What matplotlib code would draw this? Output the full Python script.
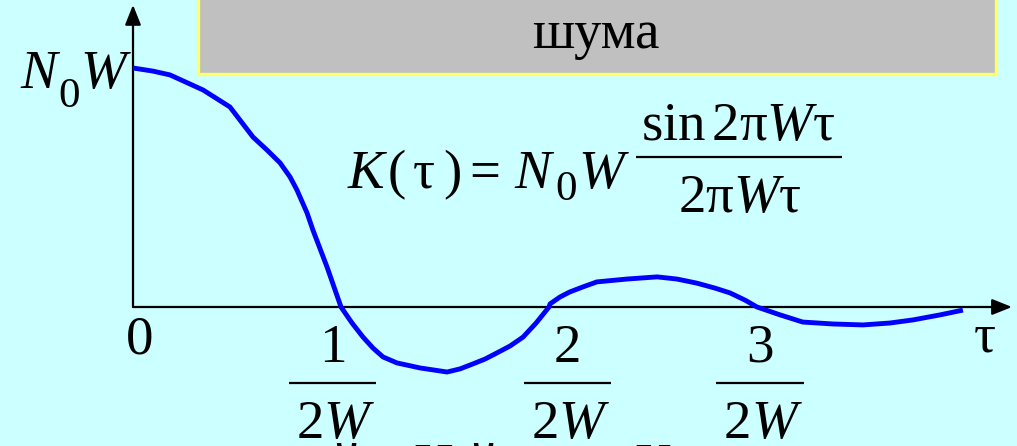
import matplotlib
matplotlib.use("Agg")
import matplotlib.pyplot as plt
from matplotlib.patches import Rectangle
from matplotlib.transforms import Affine2D, blended_transform_factory

plt.rcParams["font.family"] = ["Liberation Serif", "DejaVu Serif"]
plt.rcParams["mathtext.fontset"] = "custom"
plt.rcParams["mathtext.rm"] = "Liberation Serif"
plt.rcParams["mathtext.it"] = "Liberation Serif:italic"

# Correlation function of band-limited white noise:
# tau in units of 1/(2W), K in units of N0*W
tau = [0.0, 0.096, 0.178, 0.337, 0.466, 0.577, 0.644, 0.707, 0.755, 0.788, 0.837,
       0.865, 0.933, 1.0,
       1.053, 1.106, 1.154, 1.202, 1.269, 1.380, 1.510, 1.572, 1.620, 1.692, 1.750,
       1.813, 1.875, 1.938, 2.0,
       2.005, 2.053, 2.10, 2.163, 2.23, 2.375, 2.52, 2.615, 2.71, 2.798, 2.87, 2.942, 3.0,
       3.111, 3.22, 3.365, 3.51, 3.639, 3.75, 3.880, 3.99]
K = [1.0, 0.987, 0.971, 0.908, 0.837, 0.711, 0.657, 0.603, 0.544, 0.490, 0.393,
     0.322, 0.167, 0.0,
     -0.067, -0.126, -0.172, -0.209, -0.234, -0.255, -0.272, -0.259, -0.243, -0.218, -0.192,
     -0.163, -0.126, -0.067, 0.0,
     0.013, 0.042, 0.063, 0.084, 0.105, 0.117, 0.126, 0.117, 0.100, 0.079, 0.059, 0.029, 0.0,
     -0.033, -0.063, -0.071, -0.075, -0.067, -0.054, -0.033, -0.013]
tick_pos = [1, 2, 3]
tick_num = ["1", "2", "3"]

W_PX, H_PX = 1017, 446
BG = "#CCFFFF"
FS = 39.5
PX_PER_TAU = 208

fig = plt.figure(figsize=(W_PX / 100, H_PX / 100), dpi=100, facecolor=BG)
ax = fig.add_axes([0, 0, 1, 1])
ax.set_facecolor(BG)
ax.set_xlim(-133 / PX_PER_TAU, 884 / PX_PER_TAU)
ax.set_ylim(-139 / 239, 307 / 239)
ax.axis("off")

# pixel-coordinate transform (origin top-left)
pix = Affine2D().scale(1 / W_PX, -1 / H_PX).translate(0, 1) + fig.transFigure
xdata_ypix = blended_transform_factory(ax.transData, pix)


def label(x, y, s, tr=pix, size=FS, ha="left", style="normal"):
    ax.text(x, y, s, transform=tr, ha=ha, va="baseline", fontsize=size,
            fontstyle=style, color="black", clip_on=False)


# title box
ax.add_patch(Rectangle((198, -5), 798, 79, transform=pix, facecolor="#C0C0C0",
                       edgecolor="#FFFF66", lw=2.4, zorder=1, clip_on=False))
label(596, 48, "шума", ha="center")

# axes with arrows
arrow = dict(arrowstyle="-|>,head_length=0.55,head_width=0.22", lw=1.6, color="black",
             mutation_scale=22, shrinkA=0, shrinkB=0)
ax.annotate("", xy=(0, 1.264), xytext=(0, 0), arrowprops=arrow, zorder=3)
ax.annotate("", xy=(4.226, 0), xytext=(0, 0), arrowprops=arrow, zorder=3)

# curve
ax.plot(tau, K, color="#0000FF", lw=3.5, solid_joinstyle="round",
        solid_capstyle="butt", zorder=4)

# vertical axis label N0W
label(20, 88, "N", style="italic")
label(58, 107, "0", size=31)
label(80, 88, "W", style="italic")

# horizontal axis label and origin
label(985, 352, "τ", ha="center")
label(0.03, 353, "0", tr=xdata_ypix, ha="center")

# fractional tick labels k/(2W)
offsets = [-0.04, 0.09, 0.015]
split = 9 / PX_PER_TAU
for p, num, off in zip(tick_pos, tick_num, offsets):
    x = p + off
    label(x, 362, num, tr=xdata_ypix, ha="center")
    ax.plot([x - 0.21, x + 0.21], [383, 383], transform=xdata_ypix, color="black",
            lw=1.6, solid_capstyle="butt")
    label(x - split, 438, "2", tr=xdata_ypix, ha="right")
    label(x - split, 438, "W", tr=xdata_ypix, ha="left", style="italic")

# formula K(tau) = N0W sin(2 pi W tau) / (2 pi W tau)
label(348, 188, "K", style="italic")
label(388, 188, "(")
label(424, 188, "τ", ha="center")
label(461, 188, ")", ha="right")
label(485, 188, "=", ha="center")
label(514, 188, "N", style="italic")
label(555, 200, "0", size=31)
label(578, 188, "W", style="italic")
label(738, 140, r"$\mathrm{sin\,2π}W\mathrm{τ}$", ha="center")
ax.plot([636, 842], [157, 157], transform=pix, color="black", lw=1.6,
        solid_capstyle="butt")
label(740, 212, r"$2\mathrm{π}W\mathrm{τ}$", ha="center")

# next line of slide text, only its top edge is inside the frame
for xc, ch in [(347, "й"), (433, "Н"), (484, "й"), (653, "К")]:
    label(xc, 481, ch, ha="center")

fig.savefig("out.png", dpi=100, facecolor=BG)
